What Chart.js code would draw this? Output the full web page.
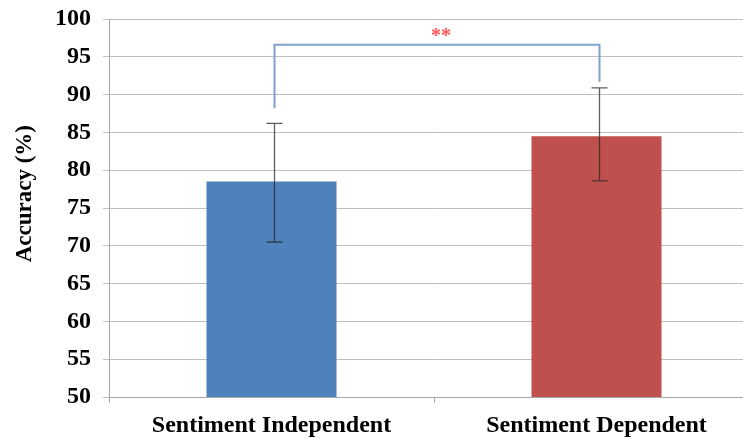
<!DOCTYPE html>
<html lang="en">
<head>
  <meta charset="UTF-8" />
  <title>Accuracy by Sentiment</title>
  <script src="https://cdn.jsdelivr.net/npm/chart.js"></script>
  <style>
    body {
      margin: 0;
      background: #fff;
      overflow: hidden;
    }
    #wrap {
      width: 765px;
      height: 439px;
    }
  </style>
</head>
<body>
  <div id="wrap"><canvas id="accChart" width="765" height="439"></canvas></div>

  <script>
    const categories = ["Sentiment Independent", "Sentiment Dependent"];
    const accuracy = [78.5, 84.5];
    const errLow = [70.5, 78.6];
    const errHigh = [86.2, 90.9];
    const barColors = ["#4F81BD", "#C0504D"];
    // significance bracket: left foot, right foot, top (in % units)
    const bracketFeet = [88.2, 91.7];
    const bracketTop = 96.6;
    const sigLabel = "**";

    const serif = "'Liberation Serif', 'Times New Roman', serif";

    // error bars + significance bracket drawn on top of the bars
    const extrasPlugin = {
      id: 'extras',
      afterDatasetsDraw(chart) {
        const ctx = chart.ctx;
        const y = chart.scales.y;
        const meta = chart.getDatasetMeta(0);
        // whiskers sit a touch right of the bar centre in the original
        const xs = meta.data.map(b => b.x + 3);

        ctx.save();
        ctx.strokeStyle = 'rgba(40,40,40,0.75)';
        ctx.lineWidth = 1.3;
        xs.forEach((x, i) => {
          const top = y.getPixelForValue(errHigh[i]);
          const bot = y.getPixelForValue(errLow[i]);
          ctx.beginPath();
          ctx.moveTo(x, top); ctx.lineTo(x, bot);
          ctx.moveTo(x - 8, top); ctx.lineTo(x + 8, top);
          ctx.moveTo(x - 8, bot); ctx.lineTo(x + 8, bot);
          ctx.stroke();
        });

        // bracket
        const yt = y.getPixelForValue(bracketTop);
        ctx.strokeStyle = '#7FA2D0';
        ctx.lineWidth = 2;
        ctx.beginPath();
        ctx.moveTo(xs[0], y.getPixelForValue(bracketFeet[0]));
        ctx.lineTo(xs[0], yt);
        ctx.lineTo(xs[1], yt);
        ctx.lineTo(xs[1], y.getPixelForValue(bracketFeet[1]));
        ctx.stroke();

        ctx.fillStyle = '#FF5555';
        ctx.font = 'bold 20px ' + serif;
        ctx.textAlign = 'center';
        ctx.textBaseline = 'middle';
        ctx.fillText(sigLabel, (xs[0] + xs[1]) / 2 + 4, yt - 8);
        ctx.restore();
      }
    };

    new Chart(document.getElementById('accChart'), {
      type: 'bar',
      data: {
        labels: categories,
        datasets: [{
          data: accuracy,
          backgroundColor: barColors,
          borderWidth: 0,
          barPercentage: 0.4,
          categoryPercentage: 1.0
        }]
      },
      options: {
        responsive: false,
        animation: false,
        layout: { padding: { top: 19, right: 6, left: 0, bottom: 0 } },
        plugins: {
          legend: { display: false },
          tooltip: { enabled: false }
        },
        scales: {
          x: {
            grid: {
              offset: true,
              drawOnChartArea: false,
              drawTicks: true,
              tickLength: 6,
              color: '#A6A6A6'
            },
            border: { color: '#A6A6A6' },
            ticks: {
              color: '#000',
              padding: 8,
              font: { family: serif, size: 24, weight: 'bold' }
            },
            afterFit(scale) { scale.height = 42; }
          },
          y: {
            min: 50,
            max: 100,
            ticks: {
              stepSize: 5,
              color: '#000',
              padding: 12,
              font: { family: serif, size: 24, weight: 'bold' }
            },
            grid: { color: '#BFBFBF', tickLength: 6 },
            border: { color: '#A6A6A6' },
            title: {
              display: true,
              // leading spaces lift the rotated title a little, as in the original
              text: '\u00A0\u00A0\u00A0\u00A0\u00A0Accuracy (%)',
              color: '#000',
              padding: { top: 11, bottom: 4 },
              font: { family: serif, size: 23, weight: 'bold' }
            },
            afterFit(scale) {
              scale.width = 109;
              scale.paddingTop = 0;
              scale.paddingBottom = 0;
            }
          }
        }
      },
      plugins: [extrasPlugin]
    });
  </script>
</body>
</html>
